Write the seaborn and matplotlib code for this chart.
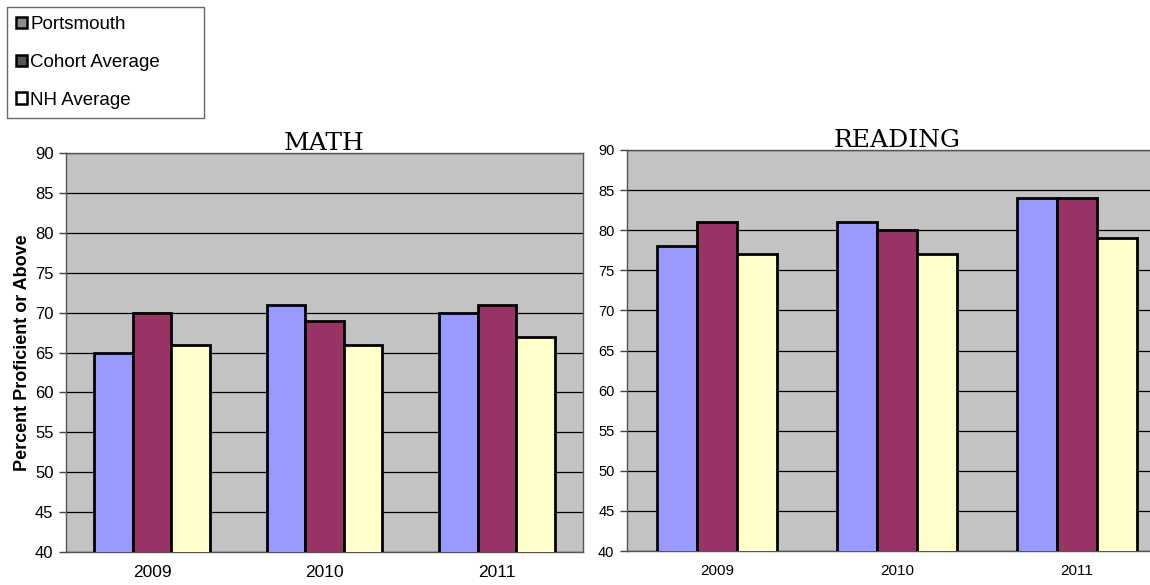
import matplotlib
matplotlib.use("Agg")
import matplotlib.pyplot as plt
import matplotlib.patches as mpatches
import seaborn as sns
import pandas as pd

years = ["2009", "2010", "2011"]
series = ["Portsmouth", "Cohort Average", "NH Average"]
math_portsmouth = [65, 71, 70]
math_cohort = [70, 69, 71]
math_nh = [66, 66, 67]
reading_portsmouth = [78, 81, 84]
reading_cohort = [81, 80, 84]
reading_nh = [77, 77, 79]
y_ticks = [40, 45, 50, 55, 60, 65, 70, 75, 80, 85, 90]

bar_colors = ["#9999ff", "#993366", "#ffffcc"]
legend_swatches = ["#8c8c8c", "#555555", "#ffffff"]


def frame(p, c, n):
    rows = []
    for name, vals in zip(series, [p, c, n]):
        for y, v in zip(years, vals):
            rows.append({"Year": y, "Group": name, "Value": v})
    return pd.DataFrame(rows)


sns.set_theme(style="white")
plt.rcParams["font.family"] = ["Liberation Sans", "DejaVu Sans"]
plt.rcParams["text.color"] = "black"
plt.rcParams["axes.labelcolor"] = "black"
plt.rcParams["xtick.color"] = "black"
plt.rcParams["ytick.color"] = "black"

fig = plt.figure(figsize=(11.5, 5.85), dpi=100)
ax_m = fig.add_axes([0.0574, 0.0564, 0.4496, 0.682])
ax_r = fig.add_axes([0.5452, 0.0581, 0.4696, 0.6855])

panels = [
    (ax_m, frame(math_portsmouth, math_cohort, math_nh), "MATH", 12, 12.5),
    (ax_r, frame(reading_portsmouth, reading_cohort, reading_nh), "READING", 10.5, 11),
]

for ax, df, title, ytick_fs, xtick_fs in panels:
    ax.set_facecolor("#c3c3c3")
    sns.barplot(data=df, x="Year", y="Value", hue="Group", hue_order=series,
                palette=bar_colors, width=0.67, edgecolor="black",
                linewidth=2, saturation=1, ax=ax, legend=False, zorder=3)
    ax.set_ylim(40, 90)
    ax.set_yticks(y_ticks)
    ax.set_yticklabels([str(t) for t in y_ticks], fontsize=ytick_fs)
    ax.set_xlim(-0.5, 2.5)
    ax.set_xticks([0, 1, 2])
    ax.set_xticklabels(years, fontsize=xtick_fs)
    ax.set_xticks([0.5, 1.5], minor=True)
    ax.tick_params(axis="x", which="major", length=0, pad=9)
    ax.tick_params(axis="x", which="minor", length=5, color="#444444", width=1)
    ax.tick_params(axis="y", length=5, color="#444444", width=1, pad=4, left=True)
    ax.yaxis.grid(True, color="black", linewidth=0.9, zorder=1)
    ax.set_axisbelow(True)
    ax.set_xlabel("")
    ax.set_ylabel("")
    for s in ax.spines.values():
        s.set_color("#555555")
        s.set_linewidth(1)
    ax.set_title(title, fontsize=18, pad=2, color="black",
                 family=["DejaVu Serif"])

ax_m.set_ylabel("Percent Proficient or Above", fontsize=13, fontweight="bold", labelpad=3)

# legend box spans a fixed width at the top-left corner of the figure
handles = [mpatches.Patch(facecolor=c, edgecolor="black", linewidth=1.8, label=s)
           for c, s in zip(legend_swatches, series)]
leg = fig.legend(handles=handles, loc="upper left",
                 bbox_to_anchor=(0.006, 0.988, 0.171, 0.0), mode="expand",
                 fontsize=13.5, frameon=True, fancybox=False, handlelength=0.55,
                 handleheight=0.55, handletextpad=0.2, labelspacing=1.1,
                 borderpad=0.5, borderaxespad=0)
leg.get_frame().set_edgecolor("#444444")
leg.get_frame().set_linewidth(1)

fig.savefig("out.png", dpi=100)
